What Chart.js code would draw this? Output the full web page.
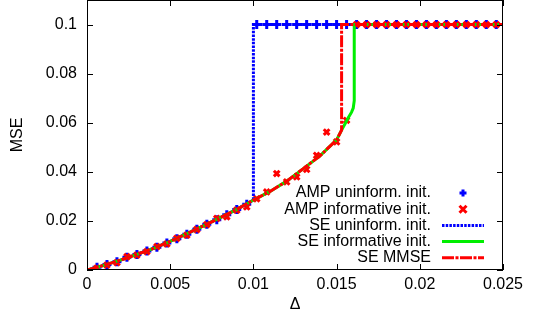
<!DOCTYPE html>
<html>
<head>
<meta charset="utf-8">
<script src="https://cdn.jsdelivr.net/npm/chart.js@4.4.0/dist/chart.umd.min.js"></script>
<style>
  html, body { margin: 0; padding: 0; background: #fff; }
</style>
</head>
<body>
<canvas id="mseChart" width="548" height="326"></canvas>
<script>
// axis ticks
const xTicks = [0, 0.005, 0.01, 0.015, 0.02, 0.025];
const yTicks = [0, 0.02, 0.04, 0.06, 0.08, 0.1];

// AMP runs (same Delta grid for both inits)
const ampDelta = [0.0006, 0.0012, 0.0018, 0.0024, 0.003, 0.0036, 0.0042, 0.0048, 0.0054, 0.006,
  0.0066, 0.0072, 0.0078, 0.0084, 0.009, 0.0096, 0.0102, 0.0108, 0.0114, 0.012,
  0.0126, 0.0132, 0.0138, 0.0144, 0.015, 0.0156, 0.0162, 0.0168, 0.0174, 0.018,
  0.0186, 0.0192, 0.0198, 0.0204, 0.021, 0.0216, 0.0222, 0.0228, 0.0234, 0.024, 0.0246];
const ampUninfMse = [0.0011, 0.0022, 0.0034, 0.0052, 0.0063, 0.0077, 0.0093, 0.011, 0.0127, 0.0146,
  0.0166, 0.0186, 0.0205, 0.0225, 0.0246, 0.0268, 0.1, 0.1, 0.1, 0.1,
  0.1, 0.1, 0.1, 0.1, 0.1, 0.1, 0.1, 0.1, 0.1, 0.1,
  0.1, 0.1, 0.1, 0.1, 0.1, 0.1, 0.1, 0.1, 0.1, 0.1, 0.1];
const ampInfoMse = [0.0008, 0.002, 0.003, 0.0054, 0.0061, 0.0075, 0.0095, 0.0106, 0.0129, 0.0142,
  0.0165, 0.0185, 0.021, 0.0217, 0.0244, 0.0257, 0.029, 0.0318, 0.0393, 0.0359,
  0.0379, 0.041, 0.0467, 0.0562, 0.0522, 0.061, 0.1, 0.1, 0.1, 0.1,
  0.1, 0.1, 0.1, 0.1, 0.1, 0.1, 0.1, 0.1, 0.1, 0.1, 0.1];

// state evolution curves
const seUninfDelta = [0, 0.001, 0.002, 0.003, 0.004, 0.005, 0.006, 0.007, 0.008, 0.009, 0.01, 0.01, 0.025];
const seUninfMse = [0, 0.0019, 0.004, 0.0064, 0.0088, 0.0117, 0.0148, 0.018, 0.0213, 0.0247, 0.0285, 0.1, 0.1];

const seInfoDelta = [0, 0.001, 0.002, 0.003, 0.004, 0.005, 0.006, 0.007, 0.008, 0.009, 0.01, 0.011, 0.012,
  0.013, 0.014, 0.015, 0.0153, 0.0155, 0.0157, 0.0159, 0.016, 0.01606, 0.01606, 0.025];
const seInfoMse = [0, 0.0019, 0.004, 0.0064, 0.0088, 0.0117, 0.0148, 0.018, 0.0213, 0.0247, 0.0285, 0.032, 0.0362,
  0.0413, 0.0465, 0.053, 0.057, 0.0595, 0.062, 0.0643, 0.066, 0.069, 0.1, 0.1];

const seMmseDelta = [0, 0.001, 0.002, 0.003, 0.004, 0.005, 0.006, 0.007, 0.008, 0.009, 0.01, 0.011, 0.012,
  0.013, 0.014, 0.015, 0.0153, 0.0153, 0.025];
const seMmseMse = [0, 0.0019, 0.004, 0.0064, 0.0088, 0.0117, 0.0148, 0.018, 0.0213, 0.0247, 0.0285, 0.032, 0.0362,
  0.0413, 0.0465, 0.053, 0.057, 0.1, 0.1];

const legendLabels = ['AMP uninform. init.', 'AMP informative init.', 'SE uninform. init.',
  'SE informative init.', 'SE MMSE'];

const toXY = (xs, ys) => xs.map((x, i) => ({ x: x, y: ys[i] }));

// index 0 is drawn on top, so the list runs front to back
const datasets = [
  { label: legendLabels[4], data: toXY(seMmseDelta, seMmseMse), showLine: true, pointRadius: 0,
    borderColor: '#ff0000', borderWidth: 3, borderDash: [12, 1.5, 3, 1.5], fill: false },
  { label: legendLabels[3], data: toXY(seInfoDelta, seInfoMse), showLine: true, pointRadius: 0,
    borderColor: '#00ee00', borderWidth: 3, fill: false },
  { label: legendLabels[2], data: toXY(seUninfDelta, seUninfMse), showLine: true, pointRadius: 0,
    borderColor: '#0000ff', borderWidth: 3, borderDash: [2.5, 1.2], fill: false },
  { label: legendLabels[1], data: toXY(ampDelta, ampInfoMse), pointStyle: 'crossRot', pointRadius: 4,
    borderColor: '#ff0000', backgroundColor: '#ff0000', borderWidth: 3 },
  { label: legendLabels[0], data: toXY(ampDelta, ampUninfMse), pointStyle: 'cross', pointRadius: 4.5,
    borderColor: '#0000ff', backgroundColor: '#0000ff', borderWidth: 3 }
];

// box, inward ticks and the gnuplot style key
const framePlugin = {
  id: 'framePlugin',
  afterDraw(chart) {
    const { ctx, chartArea: a, scales: { x, y } } = chart;
    ctx.save();
    ctx.strokeStyle = '#000';
    ctx.lineWidth = 1;
    ctx.setLineDash([]);
    ctx.strokeRect(a.left + 0.5, a.top + 0.5, a.width - 1, a.height - 1);
    ctx.beginPath();
    xTicks.forEach(v => {
      const px = Math.round(x.getPixelForValue(v)) + 0.5;
      ctx.moveTo(px, a.bottom); ctx.lineTo(px, a.bottom - 6);
      ctx.moveTo(px, a.top); ctx.lineTo(px, a.top + 6);
    });
    yTicks.forEach(v => {
      const py = Math.round(y.getPixelForValue(v)) + 0.5;
      ctx.moveTo(a.left, py); ctx.lineTo(a.left + 6, py);
      ctx.moveTo(a.right, py); ctx.lineTo(a.right - 6, py);
    });
    ctx.stroke();

    // key
    ctx.font = "16px 'Liberation Sans', Arial, sans-serif";
    ctx.textAlign = 'right';
    ctx.textBaseline = 'middle';
    const order = [4, 3, 2, 1, 0];
    legendLabels.forEach((txt, i) => {
      const cy = 193 + i * 16.2;
      ctx.fillStyle = '#000';
      ctx.fillText(txt, 431, cy);
      const ds = datasets[order[i]];
      ctx.strokeStyle = ds.borderColor;
      ctx.lineWidth = 3;
      if (ds.showLine) {
        ctx.setLineDash(ds.borderDash || []);
        ctx.beginPath();
        ctx.moveTo(442, cy); ctx.lineTo(484, cy);
        ctx.stroke();
      } else {
        ctx.setLineDash([]);
        const r = 3.5;
        ctx.beginPath();
        if (ds.pointStyle === 'cross') {
          ctx.moveTo(463 - r, cy); ctx.lineTo(463 + r, cy);
          ctx.moveTo(463, cy - r); ctx.lineTo(463, cy + r);
        } else {
          ctx.moveTo(463 - r, cy - r); ctx.lineTo(463 + r, cy + r);
          ctx.moveTo(463 - r, cy + r); ctx.lineTo(463 + r, cy - r);
        }
        ctx.stroke();
      }
    });
    ctx.restore();
  }
};

Chart.defaults.font.family = "'Liberation Sans', Arial, sans-serif";
Chart.defaults.font.size = 16;
Chart.defaults.color = '#000';

new Chart(document.getElementById('mseChart'), {
  type: 'scatter',
  data: { datasets: datasets },
  options: {
    responsive: false,
    animation: false,
    devicePixelRatio: 1,
    layout: { autoPadding: false, padding: { top: 0, right: 45, left: 0, bottom: 0 } },
    elements: { line: { tension: 0 } },
    plugins: { legend: { display: false }, tooltip: { enabled: false } },
    scales: {
      x: {
        type: 'linear', min: 0, max: 0.025,
        grid: { display: false, drawTicks: false }, border: { display: false },
        afterBuildTicks: s => { s.ticks = xTicks.map(v => ({ value: v })); },
        afterFit: s => { s.height = 56; s.paddingLeft = 0; s.paddingRight = 0; },
        ticks: { padding: 5, maxRotation: 0, callback: v => String(v) },
        title: { display: true, text: 'Δ', padding: { top: 0, bottom: 12 } }
      },
      y: {
        type: 'linear', min: 0, max: 0.11,
        grid: { display: false, drawTicks: false }, border: { display: false },
        afterBuildTicks: s => { s.ticks = yTicks.map(v => ({ value: v })); },
        afterFit: s => { s.width = 87; s.paddingTop = 0; s.paddingBottom = 0; },
        ticks: { padding: 10, callback: v => String(v) },
        title: { display: true, text: 'MSE', padding: { top: 8, bottom: 0 } }
      }
    }
  },
  plugins: [framePlugin]
});
</script>
</body>
</html>
